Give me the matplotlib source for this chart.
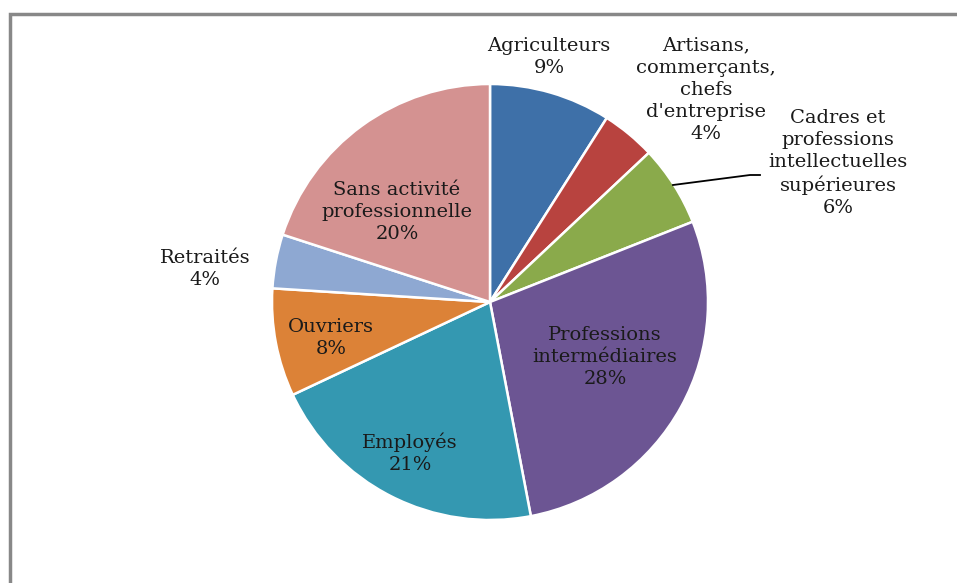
import matplotlib
matplotlib.use("Agg")
import matplotlib.pyplot as plt
from matplotlib.patches import Rectangle

categories = ["Agriculteurs", "Artisans,\ncommerçants,\nchefs\nd'entreprise",
              "Cadres et\nprofessions\nintellectuelles\nsupérieures",
              "Professions\nintermédiaires", "Employés", "Ouvriers", "Retraités",
              "Sans activité\nprofessionnelle"]
values = [9, 4, 6, 28, 21, 8, 4, 20]
colors = ["#3E70A8", "#B8433F", "#8AAA4B", "#6C5593", "#3498B1", "#DC8237",
          "#8EA8D2", "#D49291"]

# label positions in pixel coords (x, y from top)
label_pos = [(549, 57), (706, 90), (838, 163), (605, 357), (410, 453),
             (331, 338), (205, 269), (397, 212)]

W, H = 957, 583
fig = plt.figure(figsize=(W / 100, H / 100), dpi=100)
ax = fig.add_axes([0, 0, 1, 1])
cx, cy, r = 490, H - 302, 218
ax.pie(values, colors=colors, startangle=90, counterclock=False,
       center=(cx, cy), radius=r,
       wedgeprops=dict(edgecolor="white", linewidth=1.8))
ax.set_xlim(0, W)
ax.set_ylim(0, H)
ax.set_aspect("auto")
ax.axis("off")

for cat, v, (x, y) in zip(categories, values, label_pos):
    ax.text(x, H - y, f"{cat}\n{v}%", ha="center", va="center",
            fontsize=14, family="DejaVu Serif", color="#1a1a1a",
            linespacing=1.3)

# leader line for Cadres
ax.plot([673, 750, 760], [H - 185, H - 175, H - 175], color="black", lw=1.3)

# outer frame
ax.add_patch(Rectangle((9.5, -5), W, H - 14 + 5, fill=False,
                       edgecolor="#888888", lw=2.5, clip_on=False))

fig.savefig("out.png", dpi=100)
